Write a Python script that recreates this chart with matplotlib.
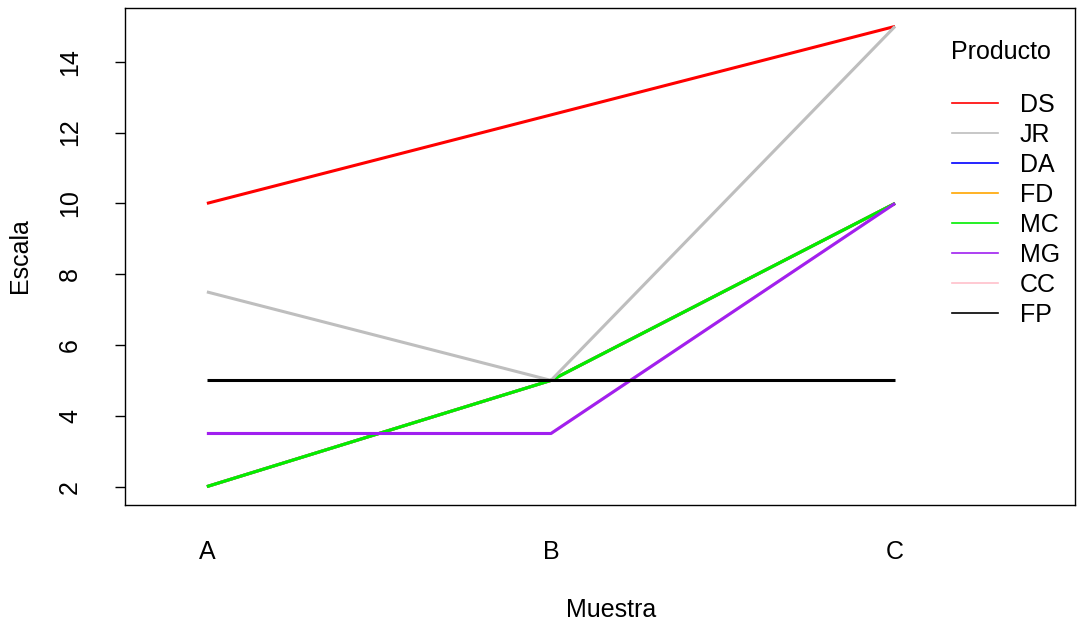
import matplotlib
matplotlib.use("Agg")
import matplotlib.pyplot as plt
from matplotlib.lines import Line2D

plt.rcParams['font.family'] = ['Liberation Sans', 'DejaVu Sans']

# data
muestras = ["A", "B", "C"]
productos = ["DS", "JR", "DA", "FD", "MC", "MG", "CC", "FP"]
colores = ["red", "#bebebe", "blue", "orange", "#00ee00", "#a020f0", "pink", "black"]
DS = [10, 12.5, 15]
JR = [7.5, 5, 15]
DA = [2, 5, 10]
FD = [2, 5, 10]
MC = [2, 5, 10]
MG = [3.5, 3.5, 10]
CC = [3.5, 3.5, 10]
FP = [5, 5, 5]
valores = [DS, JR, DA, FD, MC, MG, CC, FP]
# hidden series sit underneath, as in the reference
orden = {"DS": 5, "JR": 5, "DA": 2, "FD": 3, "MC": 4, "MG": 4, "CC": 1, "FP": 6}

W, H = 1091, 627
fig = plt.figure(figsize=(W / 100, H / 100), dpi=100)
ax = fig.add_axes([125 / W, 1 - 505 / H, 950 / W, 497 / H])

x = range(len(muestras))
for nombre, col, vals in zip(productos, colores, valores):
    ax.plot(x, vals, color=col, lw=2.2, zorder=orden[nombre], solid_capstyle="butt")

ax.set_xlim(-0.238, 2.523)
ax.set_ylim(1.48, 15.52)
ax.set_xticks(list(x))
ax.set_xticklabels(muestras, fontsize=18)
ax.tick_params(axis="x", length=0, pad=25)
ax.set_yticks([2, 4, 6, 8, 10, 12, 14])
ax.tick_params(axis="y", length=7, width=1, labelsize=18, pad=24)
for lab in ax.get_yticklabels():
    lab.set_rotation(90)
    lab.set_va("center")
for s in ax.spines.values():
    s.set_linewidth(1)

fig.text(611 / W, 1 - 610 / H, "Muestra", ha="center", va="center", fontsize=18)
fig.text(20 / W, 1 - 256 / H, "Escala", ha="center", va="center", rotation=90, fontsize=18)

# legend
fig.text(951 / W, 1 - 52 / H, "Producto", ha="left", va="center", fontsize=18)
handles = [Line2D([], [], color=c, lw=1.2) for c in colores]
leg = fig.legend(handles, productos, frameon=False, loc="upper left",
                 bbox_to_anchor=(952 / W, 1 - 93 / H), fontsize=18,
                 handlelength=1.84, handletextpad=0.88, labelspacing=0.24,
                 borderpad=0, borderaxespad=0)

fig.savefig("out.png", dpi=100)
